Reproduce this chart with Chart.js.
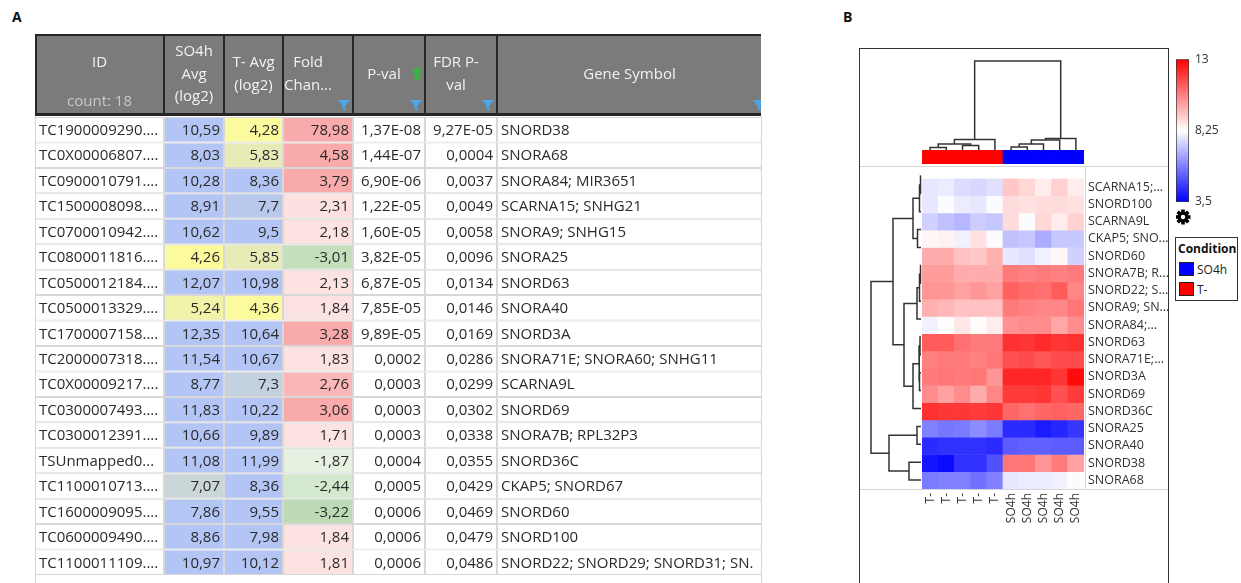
<!DOCTYPE html>
<html>
<head>
<meta charset="utf-8">
<title>snoRNA table and heatmap</title>
<script src="https://cdn.jsdelivr.net/npm/chart.js@4.4.1/dist/chart.umd.min.js"></script>
<style>
  html, body { margin: 0; padding: 0; background: #fff; }
  body { position: relative; width: 1241px; height: 583px; overflow: hidden; font-family: "Open Sans", sans-serif; color: #333; }
  canvas { position: absolute; }
  .lbl { position: absolute; font: bold 14px "Open Sans", sans-serif; color: #111; line-height: 14px; }
  #frameB { position: absolute; left: 859px; top: 48px; width: 310px; height: 560px; border: 1.5px solid #333; box-sizing: border-box; }
  .hline { position: absolute; height: 1px; background: #d6d6d6; }
  .vline { position: absolute; width: 1px; background: #d6d6d6; }
  #legend { position: absolute; left: 1175px; top: 237px; width: 63px; height: 64px; border: 1.5px solid #333; box-sizing: border-box; background: #fff; }
  #legend .ltitle { position: absolute; left: 2px; top: 3px; font: bold 12px "Open Sans", sans-serif; color: #111; line-height: 16px; }
  #legend .litem { position: absolute; left: 3px; font: 12px "Open Sans", sans-serif; color: #222; line-height: 16px; white-space: nowrap; }
  #legend .sw { display: inline-block; width: 13px; height: 12px; border: 1px solid #222; margin-right: 3px; vertical-align: -2px; }
</style>
</head>
<body>
<div class="lbl" style="left:12px; top:10px;">A</div>
<div class="lbl" style="left:843px; top:10px;">B</div>
<div id="frameB"></div>
<div class="hline" style="left:860px; top:166px; width:308px;"></div>
<div class="hline" style="left:860px; top:489px; width:308px;"></div>
<div class="vline" style="left:1085px; top:166px; height:323px;"></div>
<div id="legend"></div>

<script>
// ---------- panel A : table ----------
const probeIds = ['TC1900009290....', 'TC0X00006807....', 'TC0900010791....', 'TC1500008098....', 'TC0700010942....',
  'TC0800011816....', 'TC0500012184....', 'TC0500013329....', 'TC1700007158....', 'TC2000007318....',
  'TC0X00009217....', 'TC0300007493....', 'TC0300012391....', 'TSUnmapped0...', 'TC1100010713....',
  'TC1600009095....', 'TC0600009490....', 'TC1100011109....'];
const so4hAvg = [10.59, 8.03, 10.28, 8.91, 10.62, 4.26, 12.07, 5.24, 12.35, 11.54, 8.77, 11.83, 10.66, 11.08, 7.07, 7.86, 8.86, 10.97];
const tMinusAvg = [4.28, 5.83, 8.36, 7.7, 9.5, 5.85, 10.98, 4.36, 10.64, 10.67, 7.3, 10.22, 9.89, 11.99, 8.36, 9.55, 7.98, 10.12];
const foldChange = [78.98, 4.58, 3.79, 2.31, 2.18, -3.01, 2.13, 1.84, 3.28, 1.83, 2.76, 3.06, 1.71, -1.87, -2.44, -3.22, 1.84, 1.81];
const pValues = [1.37e-8, 1.44e-7, 6.90e-6, 1.22e-5, 1.60e-5, 3.82e-5, 6.87e-5, 7.85e-5, 9.89e-5, 0.0002, 0.0003, 0.0003, 0.0003, 0.0004, 0.0005, 0.0006, 0.0006, 0.0006];
const fdrPValues = [9.27e-5, 0.0004, 0.0037, 0.0049, 0.0058, 0.0096, 0.0134, 0.0146, 0.0169, 0.0286, 0.0299, 0.0302, 0.0338, 0.0355, 0.0429, 0.0469, 0.0479, 0.0486];
const geneSymbols = ['SNORD38', 'SNORA68', 'SNORA84; MIR3651', 'SCARNA15; SNHG21', 'SNORA9; SNHG15', 'SNORA25', 'SNORD63',
  'SNORA40', 'SNORD3A', 'SNORA71E; SNORA60; SNHG11', 'SCARNA9L', 'SNORD69', 'SNORA7B; RPL32P3', 'SNORD36C',
  'CKAP5; SNORD67', 'SNORD60', 'SNORD100', 'SNORD22; SNORD29; SNORD31; SN.'];
const headerTitles = [['ID'], ['SO4h', 'Avg', '(log2)'], ['T- Avg', '(log2)'], ['Fold', 'Chan...'], ['P-val'], ['FDR P-', 'val'], ['Gene Symbol']];
const rowCountLabel = 'count: 18';

// ---------- panel B : heatmap ----------
const sampleLabels = ['T-', 'T-', 'T-', 'T-', 'T-', 'SO4h', 'SO4h', 'SO4h', 'SO4h', 'SO4h'];
const heatRowLabels = ['SCARNA15;...', 'SNORD100', 'SCARNA9L', 'CKAP5; SNO...', 'SNORD60', 'SNORA7B; R...', 'SNORD22; S...',
  'SNORA9; SN...', 'SNORA84;...', 'SNORD63', 'SNORA71E;...', 'SNORD3A', 'SNORD69', 'SNORD36C', 'SNORA25', 'SNORA40',
  'SNORD38', 'SNORA68'];
const heatTMinus = [
  [7.8, 7.9, 7.6, 7.5, 7.7], [7.8, 8.2, 7.9, 7.8, 8.2], [7.4, 7.1, 6.9, 7.3, 7.2], [8.4, 8.5, 8.0, 8.8, 8.2],
  [9.8, 9.8, 9.4, 9.3, 9.7], [10.1, 10.1, 9.8, 9.8, 9.8], [10.2, 10.2, 10.0, 10.2, 10.0], [9.7, 9.6, 9.4, 9.4, 9.4],
  [8.0, 8.3, 8.7, 8.3, 8.6], [11.3, 11.3, 10.9, 10.7, 10.7], [10.6, 10.7, 10.7, 10.6, 10.8], [10.7, 10.8, 10.7, 10.8, 10.2],
  [10.4, 10.0, 10.4, 9.8, 10.5], [12.1, 12.0, 12.0, 11.9, 12.0], [5.9, 5.7, 5.8, 6.1, 5.8], [4.3, 4.4, 4.4, 4.4, 4.3],
  [3.9, 3.7, 4.4, 4.4, 5.0], [5.8, 5.9, 5.9, 5.6, 5.9]];
const heatSO4h = [
  [9.3, 9.0, 8.6, 9.1, 8.6], [8.9, 8.8, 8.9, 8.9, 8.8], [8.9, 8.2, 9.0, 8.6, 9.1], [7.1, 7.2, 6.7, 7.2, 7.2],
  [7.8, 7.7, 8.0, 8.4, 7.4], [10.7, 10.6, 10.7, 10.6, 10.7], [11.2, 11.0, 10.9, 11.3, 10.5], [10.7, 10.6, 10.5, 10.5, 10.8],
  [10.3, 10.4, 10.4, 9.9, 10.4], [12.1, 12.0, 12.2, 12.0, 12.1], [11.5, 11.6, 11.4, 11.6, 11.6], [12.3, 12.3, 12.3, 12.0, 12.8],
  [11.9, 11.9, 12.0, 11.5, 11.9], [11.1, 10.9, 11.1, 11.2, 11.1], [4.3, 4.3, 4.0, 4.2, 4.5], [5.2, 5.3, 5.3, 5.2, 5.2],
  [10.8, 10.8, 10.2, 10.7, 10.0], [7.8, 7.9, 7.9, 8.0, 8.2]];
// linkage: [childA, childB, height]; ids >= leaf count are earlier merges
const colLinkage = [[0, 1, 2.5], [2, 3, 4.5], [10, 11, 6], [12, 4, 10.5], [5, 6, 3], [14, 7, 6], [15, 8, 10], [16, 9, 11.5], [13, 17, 89]];
const rowLinkage = [[0, 1, 0.5], [18, 2, 1.5], [3, 4, 3.5], [19, 20, 8], [5, 6, 0.5], [22, 7, 1.5], [23, 8, 4],
  [9, 10, 1], [11, 12, 1.5], [25, 26, 2], [27, 13, 8], [24, 28, 17], [21, 29, 28], [14, 15, 4], [16, 17, 12],
  [31, 32, 32], [30, 33, 50]];
const scaleTicks = [3.5, 8.25, 13];
const conditions = ['SO4h', 'T-'];
const conditionColors = { 'SO4h': '#0000ff', 'T-': '#ff0000' };

Chart.defaults.font.family = '"Open Sans", sans-serif';
Chart.defaults.color = '#333';

function makeCanvas(left, top, w, h) {
  const c = document.createElement('canvas');
  c.width = w; c.height = h;
  c.style.left = left + 'px'; c.style.top = top + 'px';
  c.style.width = w + 'px'; c.style.height = h + 'px';
  document.body.appendChild(c);
  return c;
}

const baseOpts = {
  responsive: false, animation: false, events: [], devicePixelRatio: 1,
  layout: { padding: 0, autoPadding: false },
  plugins: { legend: { display: false }, tooltip: { enabled: false } }
};

function mix(a, b, t) {
  t = Math.max(0, Math.min(1, t));
  return 'rgb(' + a.map((v, i) => Math.round(v + (b[i] - v) * t)).join(',') + ')';
}
const fmtDec = v => String(v).replace('.', ',');
function fmtP(v) {
  if (v >= 1e-4) return v.toFixed(4).replace('.', ',');
  const [m, e] = v.toExponential(2).split('e');
  const n = parseInt(e, 10);
  return m.replace('.', ',') + 'E' + (n < 0 ? '-' : '+') + String(Math.abs(n)).padStart(2, '0');
}
const avgColor = v => mix([251, 250, 156], [179, 197, 245], Math.pow(Math.max(0, Math.min(1, (v - 4.3) / 3.6)), 1.5));
function foldColor(v) {
  if (v > 0) return mix([253, 226, 226], [249, 170, 170], (v - 2.3) / 0.6);
  return mix([232, 242, 228], [186, 218, 177], (-v - 1.8) / 1.5);
}

// ---------- table chart ----------
const colWidths = [129, 60, 59, 70, 72, 72, 265];
const colAlign = ['left', 'right', 'right', 'right', 'right', 'right', 'left'];
const headerShift = [0, 0, 0, -10, -5, -5, 0];
const cellText = [probeIds, so4hAvg.map(fmtDec), tMinusAvg.map(fmtDec), foldChange.map(fmtDec),
  pValues.map(fmtP), fdrPValues.map(fmtP), geneSymbols];
function cellFill(c, r) {
  if (c === 1) return avgColor(so4hAvg[r]);
  if (c === 2) return avgColor(tMinusAvg[r]);
  if (c === 3) return foldColor(foldChange[r]);
  return '#ffffff';
}

function drawFunnel(ctx, xr, yb) {
  ctx.beginPath();
  ctx.moveTo(xr - 13, yb - 11); ctx.lineTo(xr - 1, yb - 11); ctx.lineTo(xr - 5.5, yb - 5);
  ctx.lineTo(xr - 5.5, yb); ctx.lineTo(xr - 8.5, yb - 1.5); ctx.lineTo(xr - 8.5, yb - 5);
  ctx.closePath();
  ctx.fillStyle = '#4ea3e2';
  ctx.fill();
}

const tableHeader = {
  id: 'tableHeader',
  afterDraw(chart) {
    const { ctx, chartArea } = chart;
    const xs = chart.scales.x;
    const edges = [0];
    colWidths.forEach(w => edges.push(edges[edges.length - 1] + w));
    const px = edges.map(e => xs.getPixelForValue(e));
    const hb = chartArea.top - 1;
    const right = px[px.length - 1] - 1;
    ctx.save();
    // outer light frame of the grid
    ctx.strokeStyle = '#d6d6d6'; ctx.lineWidth = 1;
    ctx.beginPath();
    ctx.moveTo(px[0] + 0.5, hb); ctx.lineTo(px[0] + 0.5, chart.height);
    ctx.moveTo(right + 0.5, hb); ctx.lineTo(right + 0.5, chart.height);
    ctx.stroke();
    // header block
    ctx.beginPath(); ctx.rect(px[0], 0, right - px[0], hb); ctx.clip();
    ctx.fillStyle = '#7b7b7b';
    ctx.fillRect(px[0], 0, right - px[0], hb);
    drawFunnel(ctx, px[4] - 2, 77);
    drawFunnel(ctx, px[5] - 2, 77);
    drawFunnel(ctx, px[6] - 2, 77);
    drawFunnel(ctx, px[7] + 4, 77);
    // green sort arrow on P-val
    const ax = px[5] - 8;
    ctx.fillStyle = '#3fae49';
    ctx.beginPath();
    ctx.moveTo(ax, 32); ctx.lineTo(ax + 6, 39); ctx.lineTo(ax + 2.5, 39); ctx.lineTo(ax + 2.5, 46);
    ctx.lineTo(ax - 2.5, 46); ctx.lineTo(ax - 2.5, 39); ctx.lineTo(ax - 6, 39); ctx.closePath(); ctx.fill();
    ctx.strokeStyle = '#262626'; ctx.lineWidth = 2;
    ctx.beginPath();
    ctx.moveTo(px[0], 1); ctx.lineTo(right, 1);
    for (let i = 1; i < px.length - 1; i++) { ctx.moveTo(px[i], 0); ctx.lineTo(px[i], hb); }
    ctx.moveTo(px[0] + 1, 0); ctx.lineTo(px[0] + 1, hb);
    ctx.stroke();
    ctx.lineWidth = 3;
    ctx.beginPath(); ctx.moveTo(px[0], hb - 1.5); ctx.lineTo(right, hb - 1.5); ctx.stroke();
    // titles
    ctx.font = '15px "Open Sans", sans-serif';
    ctx.textAlign = 'center'; ctx.textBaseline = 'middle';
    ctx.fillStyle = '#f2f2f2';
    headerTitles.forEach((lines, c) => {
      const cx = (px[c] + px[c + 1]) / 2 + headerShift[c];
      const n = lines.length;
      const startY = n === 1 ? (c === 0 ? 29 : 41) : n === 2 ? 29 : 18;
      lines.forEach((t, k) => ctx.fillText(t, cx, startY + k * 22.5));
    });
    ctx.fillStyle = '#c9c9c9';
    ctx.fillText(rowCountLabel, (px[0] + px[1]) / 2, 68);
    ctx.restore();
  }
};

const tableText = {
  id: 'tableText',
  afterDatasetsDraw(chart) {
    const ctx = chart.ctx;
    ctx.save();
    ctx.font = '15px "Open Sans", sans-serif';
    ctx.fillStyle = '#2a2a2a';
    ctx.textBaseline = 'middle';
    chart.data.datasets.forEach((ds, c) => {
      chart.getDatasetMeta(c).data.forEach((bar, r) => {
        const left = Math.min(bar.base, bar.x), right = Math.max(bar.base, bar.x);
        if (colAlign[c] === 'left') { ctx.textAlign = 'left'; ctx.fillText(cellText[c][r], left + 4, bar.y + 1); }
        else { ctx.textAlign = 'right'; ctx.fillText(cellText[c][r], right - 4, bar.y + 1); }
      });
    });
    ctx.restore();
  }
};

new Chart(makeCanvas(35, 34, 727, 549), {
  type: 'bar',
  data: {
    labels: probeIds,
    datasets: colWidths.map((w, c) => ({
      data: probeIds.map(() => w),
      backgroundColor: probeIds.map((_, r) => cellFill(c, r)),
      borderColor: '#d8d8d8', borderWidth: 1, borderSkipped: false, inflateAmount: 0,
      barPercentage: 1, categoryPercentage: 1, stack: 'row'
    }))
  },
  options: Object.assign({}, baseOpts, {
    indexAxis: 'y',
    layout: { padding: { top: 83, bottom: 8 }, autoPadding: false },
    scales: {
      x: { display: false, stacked: true, min: 0, max: 727 },
      y: { display: false, stacked: true }
    }
  }),
  plugins: [tableText, tableHeader]
});

// ---------- heatmap chart ----------
const heatValues = heatRowLabels.map((_, i) => heatTMinus[i].concat(heatSO4h[i]));
function heatColor(v) {
  const mid = scaleTicks[1];
  if (v <= mid) return mix([0, 0, 255], [255, 255, 255], (v - scaleTicks[0]) / (mid - scaleTicks[0]));
  return mix([255, 255, 255], [255, 0, 0], (v - mid) / (scaleTicks[2] - mid));
}

new Chart(makeCanvas(922, 167, 246, 362), {
  type: 'bar',
  data: {
    labels: sampleLabels,
    datasets: heatRowLabels.map((name, i) => ({
      label: name,
      data: sampleLabels.map(() => 1),
      backgroundColor: heatValues[i].map(heatColor),
      borderWidth: 0, barPercentage: 1, categoryPercentage: 1, stack: 'cells'
    }))
  },
  options: Object.assign({}, baseOpts, {
    scales: {
      x: {
        stacked: true, grid: { display: false, drawTicks: false }, border: { display: false },
        ticks: { minRotation: 90, maxRotation: 90, autoSkip: false, padding: 4, font: { size: 12 }, color: '#333' },
        afterFit: s => { s.height = 40; }
      },
      y: {
        type: 'linear', stacked: true, reverse: true, min: 0, max: heatRowLabels.length, position: 'right',
        grid: { display: false, drawTicks: false }, border: { display: false },
        afterBuildTicks: s => { s.ticks = heatRowLabels.map((_, i) => ({ value: i + 0.5 })); },
        ticks: { autoSkip: false, padding: 4, font: { size: 12.5 }, color: '#333', callback: (v, i) => heatRowLabels[i] },
        afterFit: s => { s.width = 84; }
      }
    }
  })
});

// ---------- dendrograms ----------
function dendroSegments(linkage, nLeaves) {
  const pos = [], hgt = [];
  for (let i = 0; i < nLeaves; i++) { pos[i] = i + 0.5; hgt[i] = 0; }
  return linkage.map(([a, b, h], k) => {
    pos[nLeaves + k] = (pos[a] + pos[b]) / 2;
    hgt[nLeaves + k] = h;
    return [[pos[a], hgt[a]], [pos[a], h], [pos[b], h], [pos[b], hgt[b]]];
  });
}
const lineStyle = { showLine: true, pointRadius: 0, borderColor: '#333', borderWidth: 1.5, tension: 0, fill: false };

new Chart(makeCanvas(922, 55, 162, 96), {
  type: 'scatter',
  data: {
    datasets: dendroSegments(colLinkage, sampleLabels.length).map(seg =>
      Object.assign({ data: seg.map(([p, h]) => ({ x: p, y: h })) }, lineStyle))
  },
  options: Object.assign({}, baseOpts, {
    scales: { x: { display: false, min: 0, max: sampleLabels.length }, y: { display: false, min: -1, max: 95 } }
  })
});

new Chart(makeCanvas(860, 167, 62, 322), {
  type: 'scatter',
  data: {
    datasets: dendroSegments(rowLinkage, heatRowLabels.length).map(seg =>
      Object.assign({ data: seg.map(([p, h]) => ({ x: h, y: p })) }, lineStyle))
  },
  options: Object.assign({}, baseOpts, {
    scales: {
      x: { display: false, reverse: true, min: -1, max: 61 },
      y: { display: false, reverse: true, min: 0, max: heatRowLabels.length }
    }
  })
});

// ---------- condition bar ----------
new Chart(makeCanvas(922, 150, 162, 14), {
  type: 'bar',
  data: {
    labels: sampleLabels,
    datasets: [{ data: sampleLabels.map(() => 1), backgroundColor: sampleLabels.map(s => conditionColors[s]),
      borderWidth: 0, barPercentage: 1, categoryPercentage: 1 }]
  },
  options: Object.assign({}, baseOpts, {
    scales: { x: { display: false }, y: { display: false, min: 0, max: 1 } }
  })
});

// ---------- colour scale (with settings gear below it) ----------
const gearIcon = {
  id: 'gearIcon',
  afterDraw(chart) {
    const ctx = chart.ctx;
    const cx = 7, cy = chart.chartArea.bottom + 15;
    ctx.save();
    ctx.fillStyle = '#000';
    ctx.translate(cx, cy);
    for (let k = 0; k < 8; k++) {
      ctx.rotate(Math.PI / 4);
      ctx.fillRect(-1.8, -7.5, 3.6, 4);
    }
    ctx.beginPath(); ctx.arc(0, 0, 5.5, 0, Math.PI * 2); ctx.fill();
    ctx.fillStyle = '#fff';
    ctx.beginPath(); ctx.arc(0, 0, 2.2, 0, Math.PI * 2); ctx.fill();
    ctx.restore();
  }
};

new Chart(makeCanvas(1176, 46, 53, 185), {
  type: 'bar',
  data: {
    labels: [''],
    datasets: [{
      data: [[scaleTicks[0], scaleTicks[2]]],
      backgroundColor: c => {
        const a = c.chart.chartArea;
        if (!a) return '#fff';
        const g = c.chart.ctx.createLinearGradient(0, a.bottom, 0, a.top);
        g.addColorStop(0, '#0000ff');
        g.addColorStop((scaleTicks[1] - scaleTicks[0]) / (scaleTicks[2] - scaleTicks[0]), '#ffffff');
        g.addColorStop(1, '#ff0000');
        return g;
      },
      borderColor: '#333', borderWidth: 1, borderSkipped: false, barPercentage: 1, categoryPercentage: 1
    }]
  },
  options: Object.assign({}, baseOpts, {
    layout: { padding: { top: 8, bottom: 29 }, autoPadding: false },
    scales: {
      x: { display: false },
      y: {
        position: 'right', min: scaleTicks[0], max: scaleTicks[2],
        grid: { display: false, drawTicks: false }, border: { display: false },
        afterBuildTicks: s => { s.ticks = scaleTicks.map(v => ({ value: v })); },
        ticks: { padding: 6, font: { size: 12 }, color: '#333', callback: v => fmtDec(v) },
        afterFit: s => { s.width = 40; }
      }
    }
  }),
  plugins: [gearIcon]
});

// ---------- condition legend ----------
const legend = document.getElementById('legend');
legend.innerHTML = '<div class="ltitle">Condition</div>' + conditions.map((c, i) =>
  '<div class="litem" style="top:' + (24 + i * 20) + 'px"><span class="sw" style="background:' +
  conditionColors[c] + '"></span>' + c + '</div>').join('');
</script>
</body>
</html>
